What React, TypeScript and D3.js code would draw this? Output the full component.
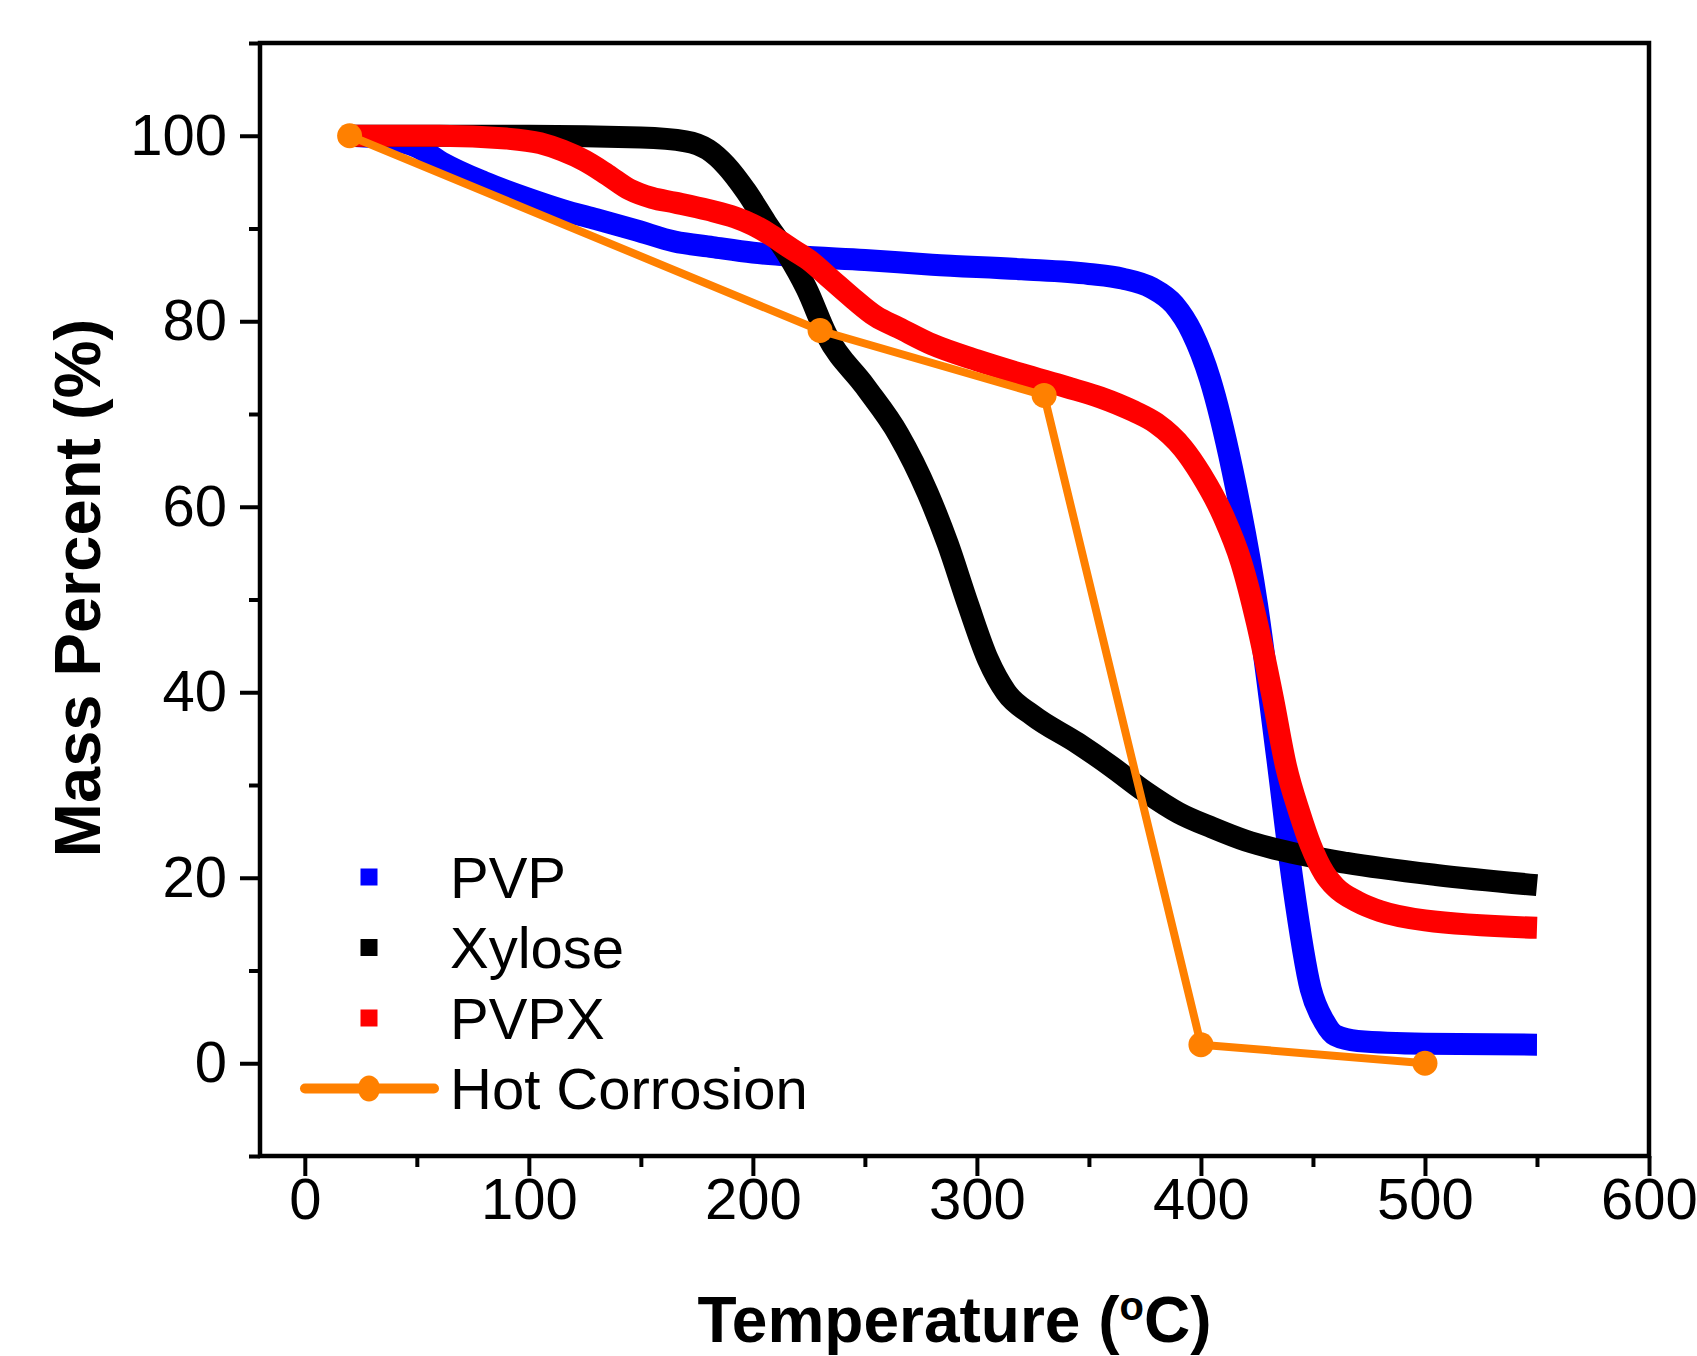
import React, { useEffect, useRef } from "react";
import * as d3 from "d3";

// TGA curves (temperature in °C, mass in %)
const tempPVP = [20, 35, 50, 62, 80, 100, 115, 130, 148, 165, 182, 200, 220, 250, 280, 320, 350, 365, 378, 388, 396, 404, 414, 425, 434, 441, 449, 455, 460, 470, 500, 550];
const massPVP = [100, 99.7, 98.8, 97, 95, 93.2, 92, 91, 89.8, 88.6, 88, 87.4, 87, 86.6, 86.1, 85.6, 85.1, 84.6, 83.6, 81.8, 78.8, 73.8, 64, 49.5, 33, 19.5, 8, 4.5, 3, 2.4, 2.1, 2];

const tempXylose = [20, 100, 150, 170, 180, 188, 197, 206, 215, 224, 233, 250, 265, 278, 287, 296, 305, 313, 325, 345, 360, 375, 390, 405, 420, 435, 465, 505, 550];
const massXylose = [100, 100, 99.8, 99.4, 98.5, 96.8, 94, 90.6, 87.4, 83.5, 78.5, 73, 67.8, 61.5, 56, 49.5, 43.5, 40, 37.5, 34.5, 32, 29.3, 27, 25.4, 24, 23, 21.6, 20.3, 19.2];

const tempPVPX = [20, 60, 90, 105, 115, 125, 135, 145, 155, 165, 180, 192, 200, 208, 216, 225, 235, 245, 255, 265, 280, 300, 320, 340, 355, 370, 380, 392, 400, 410, 418, 425, 432, 438, 444, 449, 455, 460, 470, 480, 500, 550];
const massPVPX = [100, 100, 99.7, 99.2, 98.4, 97.3, 95.8, 94.2, 93.3, 92.8, 92, 91.2, 90.4, 89.3, 88, 86.6, 84.5, 82.4, 80.5, 79.3, 77.5, 75.8, 74.3, 72.9, 71.8, 70.3, 69, 66.3, 63.5, 59, 54, 47.5, 39.5, 32, 27, 23.5, 20.5, 19, 17.4, 16.4, 15.4, 14.6];

const tempHot = [20, 230, 330, 400, 500];
const massHot = [100, 79, 72, 2, 0];

const legendNames = ["PVP", "Xylose", "PVPX", "Hot Corrosion"];
const xMajorTicks = [0, 100, 200, 300, 400, 500, 600];
const xMinorTicks = [50, 150, 250, 350, 450, 550];
const yMajorTicks = [0, 20, 40, 60, 80, 100];
const yMinorTicks = [-10, 10, 30, 50, 70, 90, 110];

const App = () => {
  const ref = useRef<SVGSVGElement>(null);

  useEffect(() => {
    const width = 1697,
      height = 1356;
    const left = 260,
      right = 1649,
      top = 43,
      bottom = 1156;
    const font = "'Liberation Sans', Arial, sans-serif";

    const svg = d3.select(ref.current);
    svg.selectAll("*").remove();
    svg.attr("width", width).attr("height", height);

    const x = d3.scaleLinear().domain([-20, 600]).range([left, right]);
    const y = d3.scaleLinear().domain([-10, 110]).range([bottom, top]);

    const colors = ["#0000ff", "#000000", "#ff0000", "#ff8000"];

    // thick TGA curves
    const series = [
      { t: tempPVP, m: massPVP, c: colors[0] },
      { t: tempXylose, m: massXylose, c: colors[1] },
      { t: tempPVPX, m: massPVPX, c: colors[2] },
    ];
    const line = d3
      .line<[number, number]>()
      .x((d) => x(d[0]))
      .y((d) => y(d[1]))
      .curve(d3.curveMonotoneX);

    series.forEach((s) => {
      svg
        .append("path")
        .attr("d", line(s.t.map((t, i) => [t, s.m[i]] as [number, number])))
        .attr("fill", "none")
        .attr("stroke", s.c)
        .attr("stroke-width", 22)
        .attr("stroke-linejoin", "round");
    });

    // hot corrosion line + markers
    const hot = tempHot.map((t, i) => [t, massHot[i]] as [number, number]);
    svg
      .append("path")
      .attr("d", d3.line<[number, number]>().x((d) => x(d[0])).y((d) => y(d[1]))(hot))
      .attr("fill", "none")
      .attr("stroke", colors[3])
      .attr("stroke-width", 8);
    svg
      .selectAll("circle.hot")
      .data(hot)
      .join("circle")
      .attr("class", "hot")
      .attr("cx", (d) => x(d[0]))
      .attr("cy", (d) => y(d[1]))
      .attr("r", 12.5)
      .attr("fill", colors[3]);

    // axes
    const xAxis = svg.append("g").attr("transform", `translate(0,${bottom})`);
    xAxis.call(d3.axisBottom(x).tickValues(xMajorTicks).tickSize(20).tickPadding(2));
    const xMinor = svg.append("g").attr("transform", `translate(0,${bottom})`);
    xMinor.call(d3.axisBottom(x).tickValues(xMinorTicks).tickSize(11).tickFormat(() => ""));

    const yAxis = svg.append("g").attr("transform", `translate(${left},0)`);
    yAxis.call(d3.axisLeft(y).tickValues(yMajorTicks).tickSize(20).tickPadding(13));
    const yMinor = svg.append("g").attr("transform", `translate(${left},0)`);
    yMinor.call(d3.axisLeft(y).tickValues(yMinorTicks).tickSize(11).tickFormat(() => ""));

    [xAxis, xMinor, yAxis, yMinor].forEach((g) => {
      g.select(".domain").remove();
      g.selectAll(".tick line").attr("stroke", "#000").attr("stroke-width", 4);
      g.selectAll(".tick text")
        .attr("fill", "#000")
        .style("font-family", font)
        .style("font-size", "58px");
    });

    // frame
    svg
      .append("rect")
      .attr("x", left)
      .attr("y", top)
      .attr("width", right - left)
      .attr("height", bottom - top)
      .attr("fill", "none")
      .attr("stroke", "#000")
      .attr("stroke-width", 4.5);

    // axis titles
    const xt = svg
      .append("text")
      .attr("x", (left + right) / 2)
      .attr("y", 1342)
      .attr("text-anchor", "middle")
      .style("font-family", font)
      .style("font-weight", "bold")
      .style("font-size", "64px");
    xt.append("tspan").text("Temperature (");
    xt.append("tspan").attr("baseline-shift", "super").style("font-size", "40px").text("o");
    xt.append("tspan").text("C)");

    svg
      .append("text")
      .attr("transform", `translate(${100},${588}) rotate(-90)`)
      .attr("text-anchor", "middle")
      .style("font-family", font)
      .style("font-weight", "bold")
      .style("font-size", "65px")
      .text("Mass Percent (%)");

    // legend
    const legend = svg.append("g");
    legendNames.forEach((name, i) => {
      const cy = 877 + i * 70.5;
      if (i < 3) {
        legend
          .append("rect")
          .attr("x", 369 - 8.5)
          .attr("y", cy - 8.5)
          .attr("width", 17)
          .attr("height", 17)
          .attr("fill", colors[i]);
      } else {
        legend
          .append("line")
          .attr("x1", 305)
          .attr("x2", 434)
          .attr("y1", cy)
          .attr("y2", cy)
          .attr("stroke", colors[3])
          .attr("stroke-width", 10)
          .attr("stroke-linecap", "round");
        legend
          .append("ellipse")
          .attr("cx", 369)
          .attr("cy", cy)
          .attr("rx", 11)
          .attr("ry", 13)
          .attr("fill", colors[3]);
      }
      legend
        .append("text")
        .attr("x", 450)
        .attr("y", cy)
        .attr("dy", "0.36em")
        .style("font-family", font)
        .style("font-size", "58px")
        .text(name);
    });
  }, []);

  return (
    <svg ref={ref} style={{ position: "absolute", left: 0, top: 0, background: "#fff" }}></svg>
  );
};

export default App;
